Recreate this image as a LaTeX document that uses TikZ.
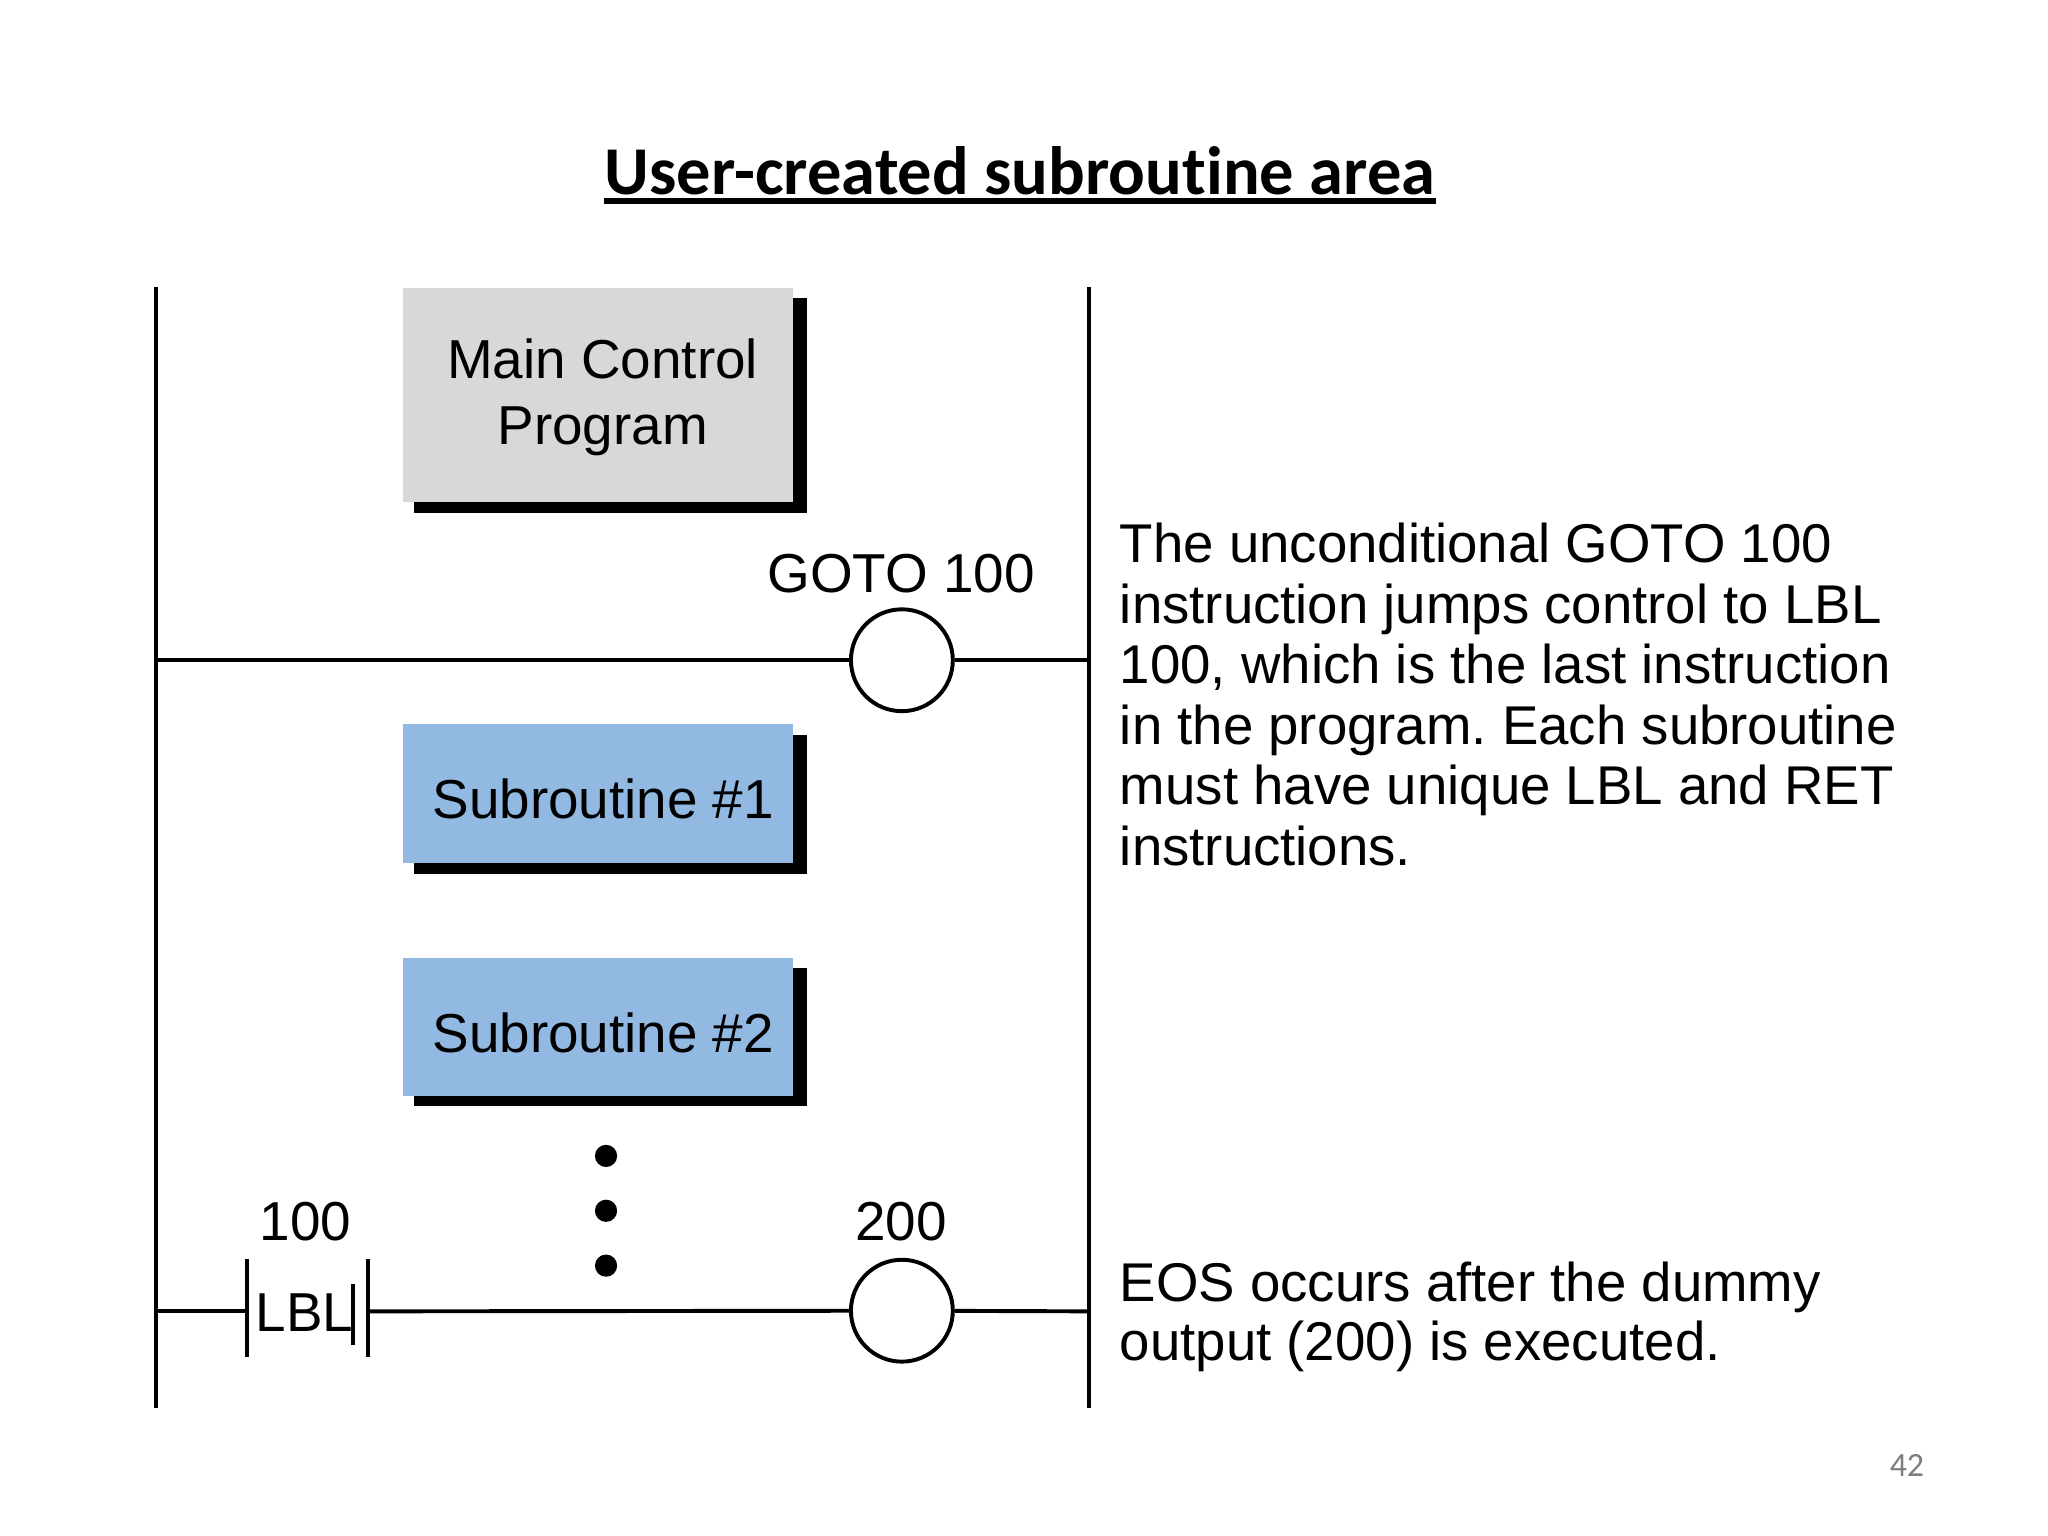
\documentclass[tikz,border=0pt]{standalone}
\usepackage{fontspec}
\setmainfont{Liberation Sans}
\newfontfamily\titlefont[Ligatures=NoCommon]{Carlito}
\usetikzlibrary{calc}
\definecolor{boxgray}{RGB}{216,216,216}
\definecolor{boxblue}{RGB}{145,185,226}
\definecolor{pagegray}{RGB}{125,125,125}
\tikzset{
  rail/.style={line width=1.5pt},
  coil/.style={circle,draw,line width=1.5pt,fill=white,minimum size=39pt,inner sep=0pt},
  progbox/.style={anchor=north west,minimum width=149.5pt,inner sep=0pt,align=center,font=\fontsize{21}{25.2}\selectfont},
  subbox/.style={progbox,fill=boxblue,minimum height=53pt,text height=19.2pt,text depth=0pt},
  shade/.style={fill=black},
  label/.style={inner sep=0pt,font=\fontsize{21}{25}\selectfont},
  note/.style={anchor=north west,inner sep=0pt,align=left,font=\frenchspacing\fontsize{20.9}{23.2}\selectfont},
  dot/.style={circle,fill=black,minimum size=8.5pt,inner sep=0pt}
}
\begin{document}
\begin{tikzpicture}[x=0.5pt,y=-0.5pt]
\useasboundingbox (0,0) rectangle (1568,1176);
\node (title) at (781,131) [inner sep=0pt,font=\titlefont\bfseries\fontsize{26.2}{30}\selectfont] {User-created subroutine area};
\draw[line width=2pt] ($(title.south west)+(0,4)$) -- ($(title.south east)+(0,4)$);

% power rails
\coordinate (railLa) at (119.5,220);
\coordinate (railLb) at (119.5,1078);
\coordinate (railRa) at (834,220);
\coordinate (railRb) at (834,1078);
\draw[rail] (railLa) -- (railLb);
\draw[rail] (railRa) -- (railRb);

% boxes
\fill[shade] (317,228) rectangle (618,393);
\node (main) at (308,220) [progbox,fill=boxgray,minimum height=82pt,text height=42.5pt] {\hspace*{3.5pt}Main Control\\\hspace*{3.5pt}Program};
\fill[shade] (317,563) rectangle (618,669);
\node (sub1) at (308,554) [subbox] {\hspace*{4pt}Subroutine \#1};
\fill[shade] (317,741) rectangle (618,847);
\node (sub2) at (308,733) [subbox] {\hspace*{4pt}Subroutine \#2};

% first rung
\coordinate (ra) at (119.5,505.5);
\coordinate (rb) at (834,505.5);
\node (goto) at (690.5,505.5) [coil] {};
\draw[rail] (ra) -- (goto) -- (rb);
\node (gotolbl) at (690,439) [label] {GOTO 100};

% dots
\node (d1) at (464,885) [dot] {};
\node (d2) at (464,927) [dot] {};
\node (d3) at (464,969) [dot] {};

% last rung
\coordinate (sa) at (119.5,1004);
\coordinate (sb) at (834,1004);
\coordinate (la) at (189,1004);
\coordinate (lb) at (282,1004);
\coordinate (lc) at (270.5,1004);
\node (out) at (690.5,1003.5) [coil] {};
\draw[rail] (sa) -- (la);
\draw[rail] (lb) -- (out) -- (sb);
\draw[rail] ($(la)+(0,-40)$) -- ($(la)+(0,35)$);
\draw[rail] ($(lb)+(0,-40)$) -- ($(lb)+(0,35)$);
\draw[rail] ($(lc)+(0,-21)$) -- ($(lc)+(0,26)$);
\node (lbl) at (233,1005) [label] {LBL};
\node (lblnum) at (234,935) [label] {100};
\node (outnum) at (690,935) [label] {200};

% notes
\node (note1) at (857,400) [note] {The unconditional GOTO 100\\instruction jumps control to LBL\\100, which is the last instruction\\in the program. Each subroutine\\must have unique LBL and RET\\instructions.};
\node (note2) at (857,966) [note,font=\frenchspacing\fontsize{20.9}{22.4}\selectfont] {EOS occurs after the dummy\\output (200) is executed.};

\node (page) at (1460,1122) [inner sep=0pt,text=pagegray,font=\titlefont\fontsize{13}{15}\selectfont] {42};
\end{tikzpicture}
\end{document}
